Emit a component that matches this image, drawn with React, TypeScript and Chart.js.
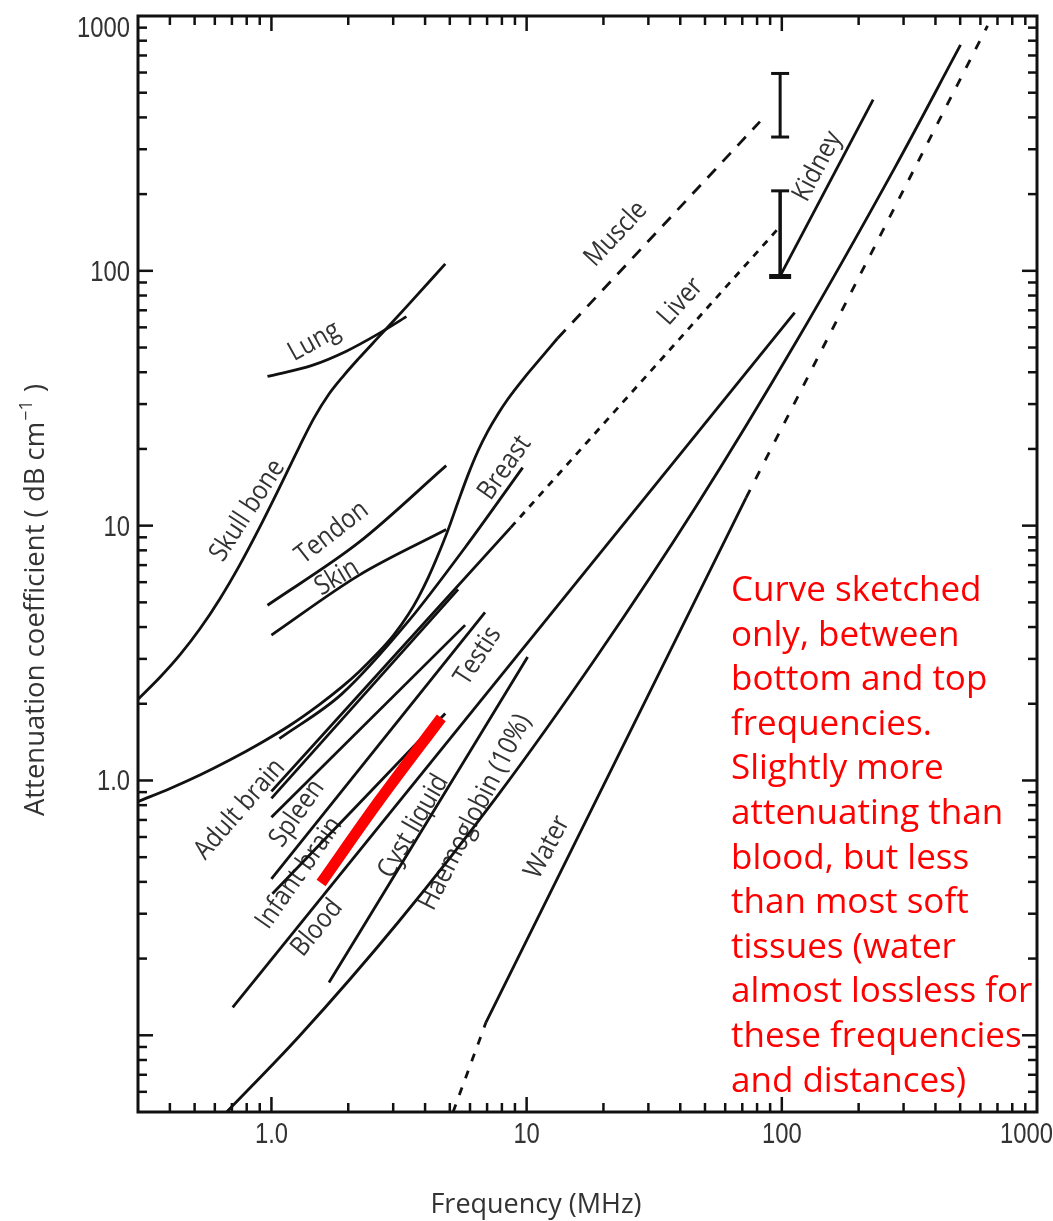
import React, { useEffect, useRef } from "react";
import { Chart, registerables } from "chart.js";

Chart.register(...registerables);

// ---------------- axes ----------------
const xRange = [0.3, 1000];
const yRange = [0.05, 1000];
const xTickValues = [1, 10, 100, 1000];
const xTickLabels = ["1.0", "10", "100", "1000"];
const yTickValues = [1, 10, 100, 1000];
const yTickLabels = ["1.0", "10", "100", "1000"];
const tickDecades = [0.01, 0.1, 1, 10, 100];
const tickMultipliers = [1, 2, 3, 4, 5, 6, 7, 8, 9];
const xTitle = "Frequency (MHz)";
const yTitleMain = "Attenuation coefficient ( dB cm";
const yTitleSup = "\u22121";
const yTitleEnd = " )";

// ---------------- curves (frequency MHz, attenuation dB/cm) ----------------
const skullFreq = [0.301, 0.3666, 0.4386, 0.5247, 0.6276, 0.7507, 0.898, 1.074, 1.285, 1.47, 1.681, 1.923, 2.2, 2.632, 3.443, 4.8];
const skullAtt = [2.09, 2.548, 3.118, 3.938, 5.158, 7.003, 9.82, 14.07, 20.35, 26.47, 32.84, 38.89, 45.32, 55.04, 73.66, 106.5];

const lungFreq = [0.965, 1.444, 1.957, 2.632, 3.38];
const lungAtt = [38.5, 42.56, 48.27, 56.7, 66.1];

const tendonFreq = [0.965, 2.2, 4.84];
const tendonAtt = [4.87, 8.59, 17.2];

const skinFreq = [1.0, 2.2, 4.84];
const skinAtt = [3.72, 6.38, 9.65];

const muscleFreq = [0.301, 0.401, 0.5247, 0.6866, 0.898, 1.175, 1.537, 1.889, 2.2, 2.632, 3.011, 3.443, 3.766, 4.119, 4.505, 4.927, 5.389, 5.893, 6.446, 7.05, 7.712, 8.436, 9.822, 11.34, 13.2];
const muscleAtt = [0.828, 0.9306, 1.0507, 1.2028, 1.394, 1.64, 1.981, 2.329, 2.666, 3.191, 3.719, 4.49, 5.233, 6.264, 7.702, 9.647, 12.41, 15.82, 19.63, 23.5, 27.38, 31.34, 38.19, 45.32, 54.24];
const muscleExtFreq = [13.2, 82.1];
const muscleExtAtt = [54.24, 385];

const breastFreq = [1.074, 1.889, 3.443, 5.74, 9.65];
const breastAtt = [1.459, 2.187, 4.217, 8.208, 16.9];

const liverFreq = [1.0, 8.66];
const liverAtt = [0.906, 9.82];
const liverExtFreq = [8.66, 96.5];
const liverExtAtt = [9.82, 146];

const adultBrainFreq = [1.0, 5.39];
const adultBrainAtt = [0.851, 5.62];

const spleenFreq = [1.0, 5.74];
const spleenAtt = [0.717, 4.07];

const testisFreq = [1.0, 6.87];
const testisAtt = [0.411, 4.57];

const infantBrainFreq = [1.009, 4.8];
const infantBrainAtt = [0.359, 1.83];

const bloodFreq = [0.705, 112.3];
const bloodAtt = [0.1287, 68.5];

const cystFreq = [1.681, 10.09];
const cystAtt = [0.161, 3.05];

const haemoFreq = [0.668, 1.285, 3.15, 7.71, 18.9, 46.3, 113.4, 277.7, 501.6];
const haemoAtt = [0.05, 0.0991, 0.279, 0.874, 3.08, 11.97, 52.3, 254.8, 770];

const waterLowFreq = [5.15, 6.93];
const waterLowAtt = [0.05, 0.1124];
const waterFreq = [6.93, 72.4];
const waterAtt = [0.1124, 12.86];
const waterHighFreq = [72.4, 640];
const waterHighAtt = [12.86, 915];

const kidneyFreq = [99.5, 228];
const kidneyAtt = [97.3, 470];

const errUpperFreq = [98.5, 98.5];
const errUpperAtt = [595, 335];
const errLowerFreq = [98.5, 98.5];
const errLowerAtt = [206, 95];

const sketchFreq = [1.565, 2.632, 4.63];
const sketchAtt = [0.396, 0.828, 1.76];

// ---------------- curve labels ----------------
const labelTexts = ["Lung", "Skull bone", "Tendon", "Skin", "Breast", "Muscle", "Liver", "Kidney", "Adult brain", "Spleen", "Infant brain", "Blood", "Cyst liquid", "Testis", "Haemoglobin (10%)", "Water"];
const labelFreq = [1.47, 0.806, 1.727, 1.806, 8.21, 22.4, 40.1, 138, 0.751, 1.262, 1.285, 1.51, 3.6, 6.45, 6.3, 12.07];
const labelAtt = [52.8, 11.45, 9.39, 6.26, 16.85, 139.5, 75.7, 257, 0.77, 0.743, 0.433, 0.264, 0.661, 3.08, 0.75, 0.547];
const labelAngle = [-29, -57, -38, -31, -55, -47, -48, -62, -49, -55, -55, -51, -60, -57, -63, -62];

// ---------------- annotation ----------------
const noteLines = [
  "Curve sketched",
  "only, between",
  "bottom and top",
  "frequencies.",
  "Slightly more",
  "attenuating than",
  "blood, but less",
  "than most soft",
  "tissues (water",
  "almost lossless for",
  "these frequencies",
  "and distances)",
];

const INK = "#111111";
const TEXT_INK = "#333333";
const SANS = '"Open Sans", "Noto Sans", "Liberation Sans", sans-serif';

const zip = (xs: number[], ys: number[]) => xs.map((x, i) => ({ x, y: ys[i] }));

const line = (xs: number[], ys: number[], extra: any = {}) => ({
  data: zip(xs, ys),
  showLine: true,
  borderColor: INK,
  backgroundColor: INK,
  borderWidth: 2.8,
  pointRadius: 0,
  fill: false,
  cubicInterpolationMode: "monotone",
  order: 1,
  ...extra,
});

const labelsPlugin = {
  id: "curveLabels",
  beforeDatasetsDraw(chart: any) {
    const { ctx } = chart;
    const xs = chart.scales.x;
    const ys = chart.scales.y;
    ctx.save();
    ctx.fillStyle = TEXT_INK;
    ctx.font = `27px ${SANS}`;
    ctx.textAlign = "center";
    ctx.textBaseline = "middle";
    labelTexts.forEach((t, i) => {
      const px = xs.getPixelForValue(labelFreq[i]);
      const py = ys.getPixelForValue(labelAtt[i]);
      ctx.save();
      ctx.translate(px, py);
      ctx.rotate((labelAngle[i] * Math.PI) / 180);
      ctx.scale(0.88, 1);
      ctx.fillText(t, 0, 0);
      ctx.restore();
    });
    ctx.restore();
  },
};

const axesPlugin = {
  id: "paperAxes",
  afterDatasetsDraw(chart: any) {
    const { ctx, chartArea: a } = chart;
    const xs = chart.scales.x;
    const ys = chart.scales.y;
    ctx.save();
    ctx.strokeStyle = INK;
    ctx.lineWidth = 2.5;
    const seg = (x1: number, y1: number, x2: number, y2: number) => {
      ctx.beginPath();
      ctx.moveTo(x1, y1);
      ctx.lineTo(x2, y2);
      ctx.stroke();
    };
    for (const d of tickDecades) {
      for (const m of tickMultipliers) {
        const v = d * m;
        const len = m === 1 ? 15 : 9;
        if (v > xRange[0] * 1.001 && v < xRange[1] * 0.999) {
          const px = xs.getPixelForValue(v);
          seg(px, a.bottom, px, a.bottom - len);
          seg(px, a.top, px, a.top + len);
        }
        if (v > yRange[0] * 1.001 && v < yRange[1] * 0.999) {
          const py = ys.getPixelForValue(v);
          seg(a.left, py, a.left + len, py);
          seg(a.right, py, a.right - len, py);
        }
      }
    }
    ctx.lineWidth = 3;
    ctx.strokeRect(a.left, a.top, a.right - a.left, a.bottom - a.top);

    // tick labels (narrow sans)
    const squeeze = 0.82;
    ctx.fillStyle = TEXT_INK;
    ctx.font = '29px "Liberation Sans", Arial, sans-serif';
    ctx.textBaseline = "alphabetic";
    const num = (t: string, x: number, y: number, align: string) => {
      ctx.save();
      ctx.translate(x, y);
      ctx.scale(squeeze, 1);
      ctx.textAlign = align;
      ctx.fillText(t, 0, 0);
      ctx.restore();
    };
    xTickValues.forEach((v, i) => {
      const w = ctx.measureText(xTickLabels[i]).width * squeeze;
      const px = Math.min(xs.getPixelForValue(v), chart.width - w / 2);
      num(xTickLabels[i], px, a.bottom + 31, "center");
    });
    yTickValues.forEach((v, i) => {
      const py = Math.max(ys.getPixelForValue(v) + 10, a.top + 21);
      num(yTickLabels[i], a.left - 8, py, "right");
    });

    // axis titles
    ctx.font = `27px ${SANS}`;
    ctx.textAlign = "center";
    ctx.fillText(xTitle, 536, a.bottom + 101);

    ctx.save();
    ctx.translate(44, 601);
    ctx.rotate(-Math.PI / 2);
    ctx.textAlign = "left";
    ctx.font = `27.5px ${SANS}`;
    const w1 = ctx.measureText(yTitleMain).width;
    const w3 = ctx.measureText(yTitleEnd).width;
    ctx.font = `18px ${SANS}`;
    const w2 = ctx.measureText(yTitleSup).width;
    const start = -(w1 + w2 + w3) / 2;
    ctx.font = `27.5px ${SANS}`;
    ctx.fillText(yTitleMain, start, 0);
    ctx.font = `18px ${SANS}`;
    ctx.fillText(yTitleSup, start + w1 + 1, -12);
    ctx.font = `27.5px ${SANS}`;
    ctx.fillText(yTitleEnd, start + w1 + w2 + 2, 0);
    ctx.restore();

    // red annotation
    ctx.fillStyle = "#ff0000";
    ctx.font = `35px ${SANS}`;
    ctx.textAlign = "left";
    noteLines.forEach((t, i) => ctx.fillText(t, 731, 601 + i * 44.6));
    ctx.restore();
  },
};

export default function App() {
  const ref = useRef<HTMLCanvasElement>(null);

  useEffect(() => {
    const canvas = ref.current;
    if (!canvas) return;
    const datasets: any[] = [
      line(sketchFreq, sketchAtt, { borderColor: "#ff0000", borderWidth: 11, order: -1 }),
      line(skullFreq, skullAtt),
      line(lungFreq, lungAtt),
      line(tendonFreq, tendonAtt),
      line(skinFreq, skinAtt),
      line(muscleFreq, muscleAtt),
      line(muscleExtFreq, muscleExtAtt, { borderDash: [12, 10] }),
      line(breastFreq, breastAtt),
      line(liverFreq, liverAtt),
      line(liverExtFreq, liverExtAtt, { borderDash: [7, 7] }),
      line(adultBrainFreq, adultBrainAtt),
      line(spleenFreq, spleenAtt),
      line(testisFreq, testisAtt),
      line(infantBrainFreq, infantBrainAtt),
      line(bloodFreq, bloodAtt),
      line(cystFreq, cystAtt),
      line(haemoFreq, haemoAtt),
      line(waterLowFreq, waterLowAtt, { borderDash: [8, 10] }),
      line(waterFreq, waterAtt),
      line(waterHighFreq, waterHighAtt, { borderDash: [9, 12] }),
      line(kidneyFreq, kidneyAtt),
      line(errUpperFreq, errUpperAtt, {
        cubicInterpolationMode: "default",
        borderWidth: 3,
        pointStyle: "line",
        pointRadius: 9,
        pointBorderWidth: 3,
        pointBorderColor: INK,
      }),
      line(errLowerFreq, errLowerAtt, {
        cubicInterpolationMode: "default",
        borderWidth: 3.5,
        pointStyle: "line",
        pointRadius: [9, 11],
        pointBorderWidth: [3, 5],
        pointBorderColor: INK,
      }),
    ];

    const chart = new Chart(canvas, {
      type: "scatter",
      data: { datasets },
      options: {
        responsive: false,
        animation: false,
        devicePixelRatio: 1,
        events: [],
        layout: { padding: { left: 138, top: 11, right: 11, bottom: 109 } },
        scales: {
          x: { type: "logarithmic", min: xRange[0], max: xRange[1], display: false },
          y: { type: "logarithmic", min: yRange[0], max: yRange[1], display: false },
        },
        plugins: { legend: { display: false }, tooltip: { enabled: false } },
      },
      plugins: [labelsPlugin, axesPlugin],
    } as any);
    return () => chart.destroy();
  }, []);

  return (
    <div style={{ position: "absolute", left: 0, top: 0, width: 1053, height: 1221, background: "#ffffff" }}>
      <canvas ref={ref} width={1053} height={1221} style={{ display: "block", width: 1053, height: 1221 }} />
    </div>
  );
}
